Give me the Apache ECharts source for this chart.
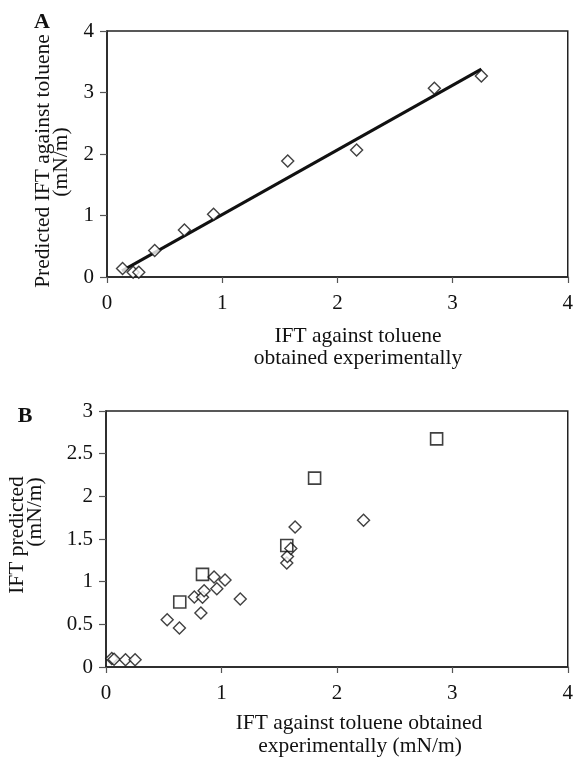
<!DOCTYPE html>
<html>
<head>
<meta charset="utf-8">
<script src="https://cdn.jsdelivr.net/npm/echarts@6/dist/echarts.min.js"></script>
<style>
html,body{margin:0;padding:0;background:#fff;}
#c{width:576px;height:758px;}
</style>
</head>
<body>
<div id="c"></div>
<script>
// Panel A data
const aExpX = [0.135, 0.227, 0.276, 0.414, 0.672, 0.925, 1.569, 2.167, 2.842, 3.25];
const aPredY = [0.14, 0.076, 0.076, 0.43, 0.764, 1.02, 1.886, 2.065, 3.07, 3.27];
const aTrendX = [0.13, 3.25];
const aTrendY = [0.10, 3.38];
// Panel B data
const bDiamX = [0.05, 0.07, 0.169, 0.252, 0.53, 0.636, 0.765, 0.836, 0.85, 0.822, 0.936, 0.96, 1.031, 1.163, 1.566, 1.572, 1.601, 1.638, 2.231];
const bDiamY = [0.10, 0.09, 0.085, 0.085, 0.554, 0.456, 0.82, 0.818, 0.893, 0.632, 1.054, 0.917, 1.019, 0.796, 1.218, 1.295, 1.389, 1.64, 1.721];
const bSqX = [0.639, 0.836, 1.566, 1.807, 2.864];
const bSqY = [0.761, 1.085, 1.424, 2.213, 2.673];

const FONT = 'Liberation Serif';
const zip = (xs, ys) => xs.map((x, i) => [x, ys[i]]);

function xAx(gi) {
  return {
    type: 'value', gridIndex: gi, min: 0, max: 4, interval: 1,
    axisLine: {show: true, lineStyle: {color: '#222', width: 1.5}},
    axisTick: {show: true, length: 6, lineStyle: {color: '#555', width: 1.2}},
    splitLine: {show: false},
    axisLabel: {fontFamily: FONT, fontSize: 21, color: '#111', margin: 16}
  };
}
function yAx(gi, max, interval) {
  return {
    type: 'value', gridIndex: gi, min: 0, max: max, interval: interval,
    axisLine: {show: true, lineStyle: {color: '#222', width: 1.5}},
    axisTick: {show: true, length: 7, lineStyle: {color: '#555', width: 1.2}},
    splitLine: {show: false},
    axisLabel: {fontFamily: FONT, fontSize: 21, color: '#111', margin: 13}
  };
}
const hollow = {color: '#fff', borderColor: '#111', borderWidth: 1.4};

function txt(x, y, s, opt) {
  return Object.assign({
    type: 'text', x: x, y: y,
    style: Object.assign({text: s, fontFamily: FONT, fontSize: 21.5, fill: '#111', align: 'center', verticalAlign: 'middle'}, opt && opt.style)
  }, opt && opt.el);
}

const chart = echarts.init(document.getElementById('c'), null, {renderer: 'canvas'});
chart.setOption({
  animation: false,
  backgroundColor: '#fff',
  grid: [
    {left: 107, top: 31, width: 464, height: 246, show: true, borderColor: '#222', borderWidth: 1.5, containLabel: false},
    {left: 106, top: 411, width: 465.5, height: 256, show: true, borderColor: '#222', borderWidth: 1.5, containLabel: false}
  ],
  xAxis: [xAx(0), xAx(1)],
  yAxis: [yAx(0, 4, 1), yAx(1, 3, 0.5)],
  series: [
    {type: 'line', xAxisIndex: 0, yAxisIndex: 0, data: zip(aTrendX, aTrendY), symbol: 'none',
     lineStyle: {color: '#111', width: 3}, z: 2},
    {type: 'scatter', xAxisIndex: 0, yAxisIndex: 0, data: zip(aExpX, aPredY), symbol: 'diamond',
     symbolSize: 12, itemStyle: hollow, z: 3},
    {type: 'scatter', xAxisIndex: 1, yAxisIndex: 1, data: zip(bDiamX, bDiamY), symbol: 'diamond',
     symbolSize: 12, itemStyle: hollow, z: 3},
    {type: 'scatter', xAxisIndex: 1, yAxisIndex: 1, data: zip(bSqX, bSqY), symbol: 'rect',
     symbolSize: 12, itemStyle: {color: 'rgba(255,255,255,0)', borderColor: '#111', borderWidth: 1.6}, z: 4}
  ],
  graphic: [
    txt(42, 22, 'A', {style: {fontWeight: 'bold', fontSize: 22}}),
    txt(25, 416, 'B', {style: {fontWeight: 'bold', fontSize: 22}}),
    txt(43.5, 161, 'Predicted IFT against toluene', {el: {rotation: Math.PI / 2}}),
    txt(61, 162, '(mN/m)', {el: {rotation: Math.PI / 2}}),
    txt(358, 336, 'IFT against toluene'),
    txt(358, 358, 'obtained experimentally'),
    txt(17.5, 535, 'IFT predicted', {el: {rotation: Math.PI / 2}}),
    txt(35, 512, '(mN/m)', {el: {rotation: Math.PI / 2}}),
    txt(359, 723, 'IFT against toluene obtained'),
    txt(360, 746, 'experimentally (mN/m)')
  ]
});
</script>
</body>
</html>
